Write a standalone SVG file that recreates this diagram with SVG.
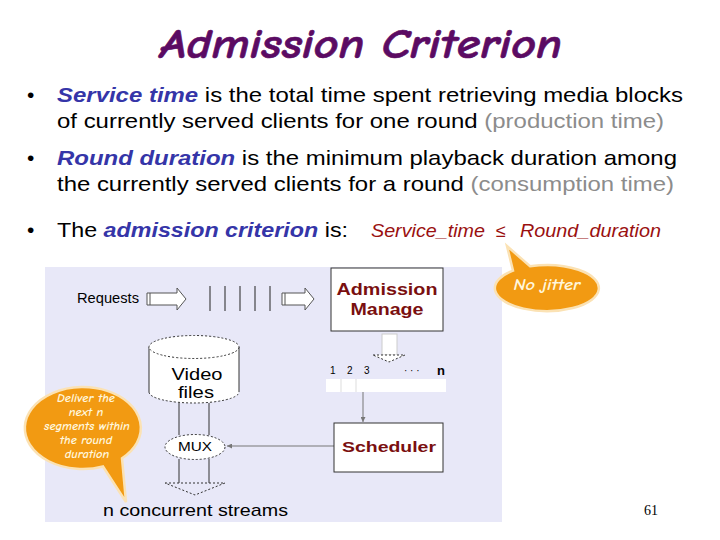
<svg xmlns="http://www.w3.org/2000/svg" width="720" height="540" viewBox="0 0 720 540">
<defs>
<style>
.t{font-family:"Liberation Sans",Arial,sans-serif;font-size:21px;fill:#000}
.b{fill:#3535a8;font-weight:bold;font-style:italic}
.g{fill:#8c8c8c}
.dia{font-family:"Liberation Sans",Arial,sans-serif;fill:#000}
.red{fill:#7a0f10;font-weight:bold;font-family:"Liberation Sans",Arial,sans-serif}
.crit{font-family:"Liberation Sans",Arial,sans-serif;font-style:italic;font-size:18px;fill:#9a1010}
.box{fill:#fff;stroke:#333;stroke-width:1}
.blk{fill:#fff;stroke:#555;stroke-width:1}
.dash{fill:#fff;stroke:#333;stroke-width:1;stroke-dasharray:2 2}
.cal{fill:#f29a12;stroke:#fbe2b4;stroke-width:2.5}
.ct{font-family:"Comic Sans MS","Comic Neue","DejaVu Sans",sans-serif;font-style:italic;font-weight:bold;fill:#fff6dc;text-anchor:middle}
.ln{stroke:#777;stroke-width:1;fill:none}
</style>
<marker id="ah" viewBox="0 0 6 6" refX="6" refY="3" markerWidth="5" markerHeight="5" orient="auto">
<path d="M0,0 L6,3 L0,6 z" fill="#777"/>
</marker>
</defs>
<rect width="720" height="540" fill="#fff"/>
<text x="160" y="58" textLength="402" lengthAdjust="spacingAndGlyphs" style="font-family:'Comic Sans MS','Comic Neue','DejaVu Sans',sans-serif;font-style:italic;font-weight:bold;font-size:42px;fill:#5b0b63;stroke:#5b0b63;stroke-width:0.6">Admission Criterion</text>

<g id="bullets">
<text x="27" y="102" class="t">•</text>
<text x="57" y="102" class="t" textLength="626" lengthAdjust="spacingAndGlyphs"><tspan class="b">Service time</tspan> is the total time spent retrieving media blocks</text>
<text x="57" y="128" class="t" textLength="607" lengthAdjust="spacingAndGlyphs">of currently served clients for one round <tspan class="g">(production time)</tspan></text>
<text x="27" y="165" class="t">•</text>
<text x="57" y="165" class="t" textLength="620" lengthAdjust="spacingAndGlyphs"><tspan class="b">Round duration</tspan> is the minimum playback duration among</text>
<text x="57" y="191" class="t" textLength="617" lengthAdjust="spacingAndGlyphs">the currently served clients for a round <tspan class="g">(consumption time)</tspan></text>
<text x="27" y="237" class="t">•</text>
<text x="57" y="237" class="t" textLength="291" lengthAdjust="spacingAndGlyphs">The <tspan class="b">admission criterion</tspan> is:</text>
<text x="371" y="237" class="crit" textLength="114" lengthAdjust="spacingAndGlyphs">Service_time</text>
<text x="496" y="237" class="crit">≤</text>
<text x="520" y="237" class="crit" textLength="141" lengthAdjust="spacingAndGlyphs">Round_duration</text>
</g>

<rect id="panel" x="45" y="267" width="457" height="255" fill="#e8e8f8"/>

<g id="connectors">
<line class="ln" x1="363" y1="392" x2="363" y2="422" marker-end="url(#ah)"/>
<line class="ln" x1="334" y1="446" x2="227" y2="446" marker-end="url(#ah)"/>
</g>

<g id="requests">
<text x="77" y="303" class="dia" font-size="14" textLength="62" lengthAdjust="spacingAndGlyphs">Requests</text>
<path class="blk" d="M147,293 H177 V288 L186,299 L177,310 V305 H147 Z"/>
<line x1="150" y1="293" x2="150" y2="305" stroke="#555"/>
</g>
<g id="queue-bars" stroke="#222" stroke-width="1">
<line x1="210" y1="286" x2="210" y2="311"/>
<line x1="225" y1="286" x2="225" y2="311"/>
<line x1="240" y1="286" x2="240" y2="311"/>
<line x1="255" y1="286" x2="255" y2="311"/>
<line x1="270" y1="286" x2="270" y2="311"/>
</g>
<g id="arrow2">
<path class="blk" d="M282,293 H305 V288 L314,299 L305,310 V305 H282 Z"/>
<line x1="285" y1="293" x2="285" y2="305" stroke="#555"/>
</g>

<g id="admission">
<rect class="box" x="331" y="268" width="112" height="63"/>
<text x="387" y="295" class="red" font-size="16" text-anchor="middle" textLength="101" lengthAdjust="spacingAndGlyphs">Admission</text>
<text x="387" y="315" class="red" font-size="16" text-anchor="middle" textLength="73" lengthAdjust="spacingAndGlyphs">Manage</text>
</g>
<g id="down-arrow">
<rect x="382" y="334" width="15" height="21" fill="#fff" stroke="#ccc"/>
<path class="dash" d="M373,355 H405 L389,362 Z"/>
</g>

<g id="slots">
<g class="dia" font-size="10">
<text x="330" y="374">1</text>
<text x="347" y="374">2</text>
<text x="364" y="374">3</text>
<text x="404" y="374">·  ·  ·</text>
</g>
<text x="437" y="375" class="dia" font-size="13" font-weight="bold">n</text>
<rect x="326" y="379" width="120" height="13" fill="#fff"/>
<line x1="341" y1="379" x2="341" y2="392" stroke="#ddd"/>
<line x1="356" y1="379" x2="356" y2="392" stroke="#ddd"/>
</g>

<g id="scheduler">
<rect class="box" x="334" y="423" width="109" height="49"/>
<text x="389" y="452" class="red" font-size="15" text-anchor="middle" textLength="94" lengthAdjust="spacingAndGlyphs">Scheduler</text>
</g>

<g id="video">
<rect x="149" y="347" width="90" height="45" fill="#fff"/>
<path d="M149,392 A45,11 0 0 0 239,392" fill="#fff" stroke="#333" stroke-dasharray="2 2"/>
<line x1="149" y1="347" x2="149" y2="392" stroke="#333"/>
<line x1="239" y1="347" x2="239" y2="392" stroke="#333"/>
<ellipse cx="194" cy="347" rx="45" ry="11.5" class="dash"/>
<text x="197" y="380" class="dia" font-size="17" text-anchor="middle" textLength="51" lengthAdjust="spacingAndGlyphs">Video</text>
<text x="196" y="398" class="dia" font-size="17" text-anchor="middle" textLength="36" lengthAdjust="spacingAndGlyphs">files</text>
</g>

<g id="mux">
<path d="M179,403 V435 M209,403 V435" stroke="#333" fill="none"/>
<path d="M179,459 V483 M209,459 V483" stroke="#333" fill="none"/>
<path d="M165,483 H225 L195,495 Z" fill="none" stroke="#333" stroke-dasharray="2 2"/>
<ellipse cx="195" cy="447" rx="30" ry="12.5" class="dash"/>
<text x="195" y="451" class="dia" font-size="12" text-anchor="middle" textLength="34" lengthAdjust="spacingAndGlyphs">MUX</text>
</g>

<text id="streams" x="103" y="516" class="dia" font-size="17" textLength="185" lengthAdjust="spacingAndGlyphs">n concurrent streams</text>

<g id="callout-jitter">
<path class="cal" d="M513,270.6 L507,246 L530,266.3 A52,23 0 1 1 513,270.6 Z"/>
<text x="547" y="290" class="ct" font-size="15" textLength="67" lengthAdjust="spacingAndGlyphs">No jitter</text>
</g>

<g id="callout-deliver">
<path class="cal" d="M103,466.5 A58,41 0 1 1 122,458.3 L126,502 Z"/>
<g class="ct" font-size="12.5">
<text x="86" y="402">Deliver the</text>
<text x="86" y="416">next n</text>
<text x="87" y="430">segments within</text>
<text x="86" y="444">the round</text>
<text x="87" y="458">duration</text>
</g>
</g>

<text x="644" y="515" style="font-family:'Liberation Serif','Times New Roman',serif;font-size:14px;fill:#000">61</text>
</svg>
